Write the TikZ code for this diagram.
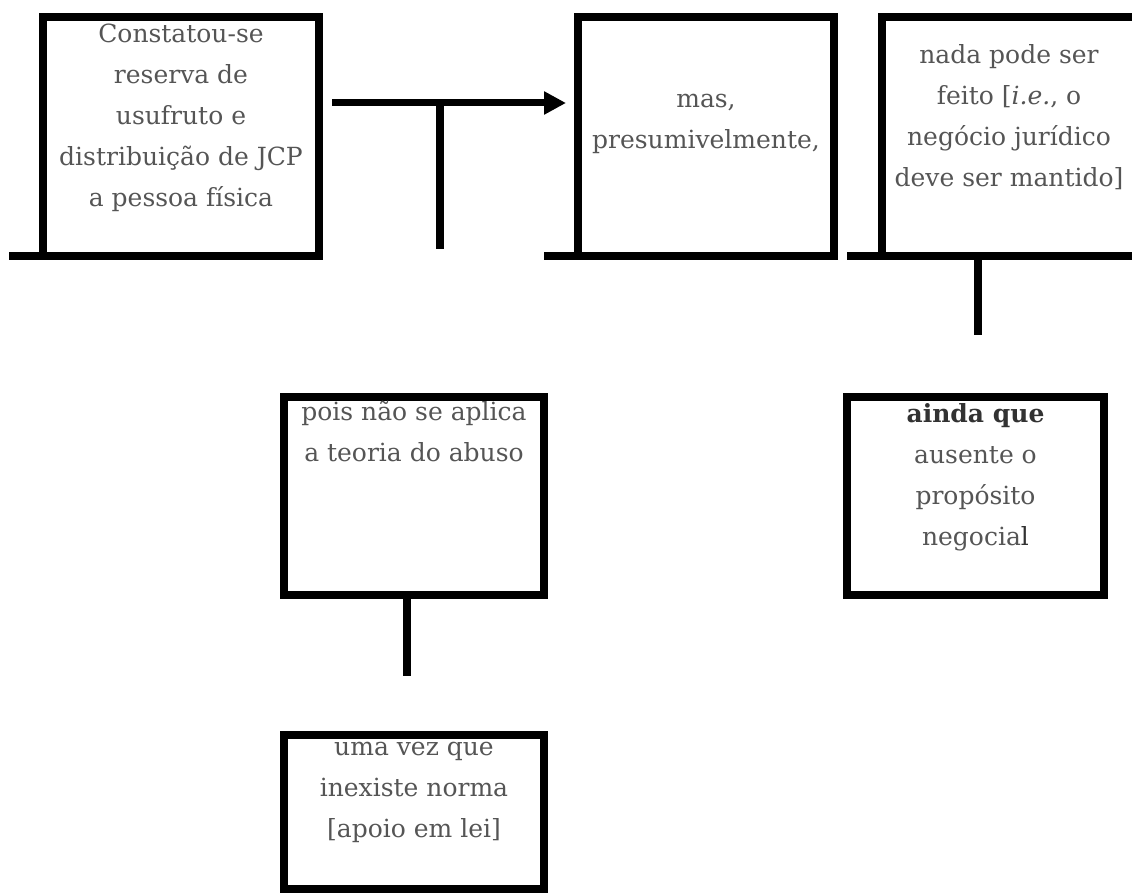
\documentclass[tikz,border=0pt]{standalone}
\usepackage{fontspec}
\setmainfont{DejaVu Serif}
\usetikzlibrary{arrows.meta}
\definecolor{Tink}{RGB}{85,85,85}
\definecolor{Tdark}{RGB}{50,50,50}
\newcommand{\linehead}{\rule{0pt}{21pt}}

\begin{document}
\begin{tikzpicture}[x=1pt,y=-1pt,line cap=butt,line join=miter,
  frame/.style={draw,line width=8pt,inner sep=0pt,outer sep=0pt},
  foot/.style={line width=8pt},
  stem/.style={line width=7.5pt},
  flow/.style={line width=7pt,-{Triangle[length=22pt,width=22pt]}},
  txt/.style={anchor=north,align=center,inner sep=0pt,text=Tink,font=\fontsize{25}{41}\selectfont}]
\path[use as bounding box] (0,0) rectangle (1132,893);
\node[frame,minimum width=276pt,minimum height=239pt] (b1) at (181.0000,136.5000) {};
\node[frame,minimum width=256pt,minimum height=239pt] (b2) at (706.0000,136.5000) {};
\node[frame,minimum width=255pt,minimum height=239pt] (b3) at (1009.5000,136.5000) {};
\node[frame,minimum width=260pt,minimum height=198pt] (b4) at (414.0000,496.0000) {};
\node[frame,minimum width=257pt,minimum height=198pt] (b5) at (975.5000,496.0000) {};
\node[frame,minimum width=260pt,minimum height=154pt] (b6) at (414.0000,812.0000) {};
\coordinate (f1) at (9.0000,256.0000);
\coordinate (f2) at (544.0000,256.0000);
\coordinate (f3) at (847.0000,256.0000);
\coordinate (j1) at (440.0000,103.0000);
\coordinate (s1) at (440.0000,249.0000);
\coordinate (s2) at (978.0000,335.0000);
\coordinate (s3) at (407.0000,676.0000);
\draw[foot] (f1) -- (b1.south west);
\draw[foot] (f2) -- (b2.south west);
\draw[foot] (f3) -- (b3.south west);
\draw[flow,shorten <=13pt,shorten >=12pt] (b1.east |- j1) -- (b2.west |- j1);
\draw[stem] (j1) -- (s1);
\draw[stem] (b3.south -| s2) -- (s2);
\draw[stem] (b4.south -| s3) -- (s3);
\node[txt] (t1) at (181.0000,21.0000) {\linehead Constatou-se\\reserva de\\usufruto e\\distribuição de JCP\\a pessoa física};
\node[txt] (t2) at (706.0000,86.0000) {\linehead mas,\\presumivelmente,};
\node[txt] (t3) at (1009.0000,42.0000) {\linehead nada pode ser\\feito [\textit{i.e.}, o\\negócio jurídico\\deve ser mantido]};
\node[txt] (t4) at (414.0000,399.0000) {\linehead pois não se aplica\\a teoria do abuso};
\node[txt] (t5) at (975.5000,401.0000) {\linehead\textcolor{Tdark}{\textbf{ainda que}}\\ausente o\\propósito\\negocia\textcolor{Tdark}{l}};
\node[txt] (t6) at (414.0000,734.0000) {\linehead uma vez que\\inexiste norma\\{[apoio em lei]}};
\end{tikzpicture}
\end{document}
